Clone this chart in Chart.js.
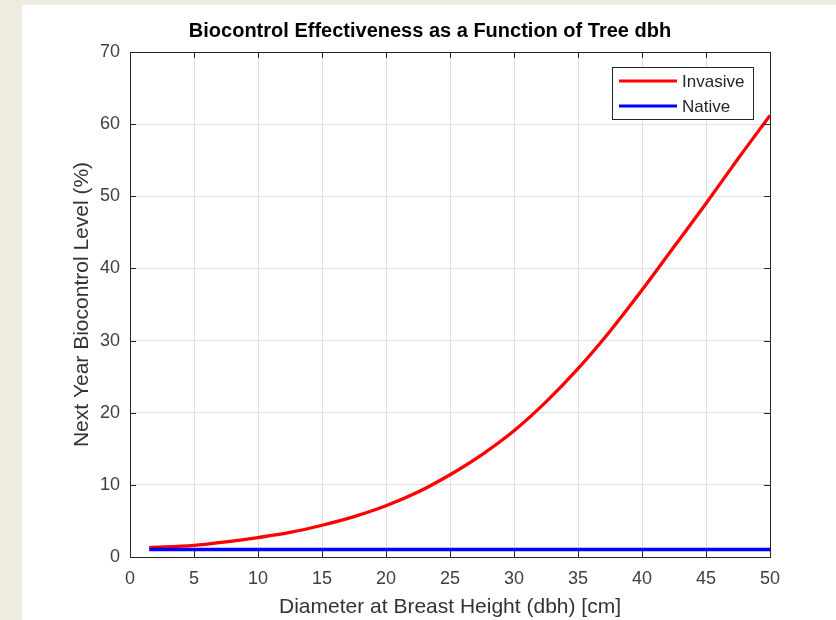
<!DOCTYPE html>
<html>
<head>
<meta charset="utf-8">
<title>Biocontrol Effectiveness</title>
<script src="https://cdn.jsdelivr.net/npm/chart.js@4.4.1/dist/chart.umd.min.js"></script>
<style>
    html, body { margin: 0; padding: 0; background: #eeebe0; }
    #chart_box { width: 836px; height: 620px; }
</style>
</head>
<body>
<div id="chart_box"><canvas id="dbh_chart" width="836" height="620"></canvas></div>
<script>
// diameter at breast height (cm)
var dbh = [1.5, 5, 7.5, 10, 12.5, 15, 17.5, 20, 22.5, 25, 27.5, 30, 32.5, 35, 37.5, 40, 42.5, 45, 47.5, 50];
// next year biocontrol level (%)
var invasive = [1.3, 1.6, 2.1, 2.7, 3.4, 4.4, 5.6, 7.1, 9.0, 11.4, 14.2, 17.5, 21.5, 26.1, 31.3, 37.0, 43.0, 49.0, 55.2, 61.2];
var native = [1.05, 1.05, 1.05, 1.05, 1.05, 1.05, 1.05, 1.05, 1.05, 1.05, 1.05, 1.05, 1.05, 1.05, 1.05, 1.05, 1.05, 1.05, 1.05, 1.05];

var xTickValues = [0, 5, 10, 15, 20, 25, 30, 35, 40, 45, 50];
var yTickValues = [0, 10, 20, 30, 40, 50, 60, 70];

var FONT = '"Liberation Sans", Arial, Helvetica, sans-serif';
var AXIS_COLOR = '#262626';

function toPoints(xs, ys) {
    return xs.map(function (x, i) { return { x: x, y: ys[i] }; });
}

// matlab-ish axes box: frame, inward ticks, title and legend
var axesDecor = {
    id: 'axesDecor',
    beforeDraw: function (chart) {
        var ctx = chart.ctx;
        ctx.save();
        ctx.fillStyle = '#eeebe0';
        ctx.fillRect(0, 0, chart.width, chart.height);
        ctx.fillStyle = '#ffffff';
        ctx.fillRect(22, 5, chart.width - 22, chart.height - 5);
        ctx.restore();
    },
    afterDraw: function (chart) {
        var ctx = chart.ctx;
        var a = chart.chartArea;
        var xs = chart.scales.x, ys = chart.scales.y;
        var t = 6;
        ctx.save();
        ctx.strokeStyle = AXIS_COLOR;
        ctx.lineWidth = 1;
        ctx.strokeRect(Math.round(a.left) + 0.5, Math.round(a.top) + 0.5,
            Math.round(a.right - a.left), Math.round(a.bottom - a.top));

        ctx.beginPath();
        xTickValues.forEach(function (v) {
            var px = Math.round(xs.getPixelForValue(v)) + 0.5;
            ctx.moveTo(px, a.bottom); ctx.lineTo(px, a.bottom - t);
            ctx.moveTo(px, a.top); ctx.lineTo(px, a.top + t);
        });
        yTickValues.forEach(function (v) {
            var py = Math.round(ys.getPixelForValue(v)) + 0.5;
            ctx.moveTo(a.left, py); ctx.lineTo(a.left + t, py);
            ctx.moveTo(a.right, py); ctx.lineTo(a.right - t, py);
        });
        ctx.stroke();

        // title
        ctx.fillStyle = '#000000';
        ctx.font = 'bold 20px ' + FONT;
        ctx.textAlign = 'center';
        ctx.textBaseline = 'middle';
        ctx.fillText('Biocontrol Effectiveness as a Function of Tree dbh', 430, 31);

        // legend
        var lx = 612, ly = 67, lw = 141, lh = 52;
        ctx.fillStyle = '#ffffff';
        ctx.fillRect(lx, ly, lw, lh);
        ctx.strokeStyle = AXIS_COLOR;
        ctx.strokeRect(lx + 0.5, ly + 0.5, lw, lh);
        ctx.font = '17px ' + FONT;
        ctx.textAlign = 'left';
        chart.data.datasets.forEach(function (ds, i) {
            var y = ly + 14 + i * 25;
            ctx.strokeStyle = ds.borderColor;
            ctx.lineWidth = 3;
            ctx.beginPath();
            ctx.moveTo(lx + 7, y);
            ctx.lineTo(lx + 65, y);
            ctx.stroke();
            ctx.fillStyle = AXIS_COLOR;
            ctx.fillText(ds.label, lx + 70, y + 1);
        });
        ctx.restore();
    }
};

new Chart(document.getElementById('dbh_chart').getContext('2d'), {
    type: 'line',
    data: {
        datasets: [{
            label: 'Invasive',
            data: toPoints(dbh, invasive),
            borderColor: '#ff0000',
            borderWidth: 3.3,
            pointRadius: 0,
            cubicInterpolationMode: 'monotone',
            order: 1
        }, {
            label: 'Native',
            data: toPoints(dbh, native),
            borderColor: '#0000ff',
            borderWidth: 3.5,
            pointRadius: 0,
            order: 0
        }]
    },
    options: {
        responsive: false,
        devicePixelRatio: 1,
        animation: false,
        layout: { padding: { left: 0, right: 66, top: 52, bottom: 0 } },
        plugins: {
            legend: { display: false },
            title: { display: false },
            tooltip: { enabled: false }
        },
        scales: {
            x: {
                type: 'linear',
                min: 0,
                max: 50,
                afterBuildTicks: function (s) { s.ticks = xTickValues.map(function (v) { return { value: v }; }); },
                afterFit: function (s) { s.height = 63; },
                grid: { color: '#e0e0e0', drawTicks: false },
                border: { display: false },
                ticks: { padding: 11, color: '#404040', maxRotation: 0, autoSkip: false, font: { family: FONT, size: 18 } },
                title: {
                    display: true,
                    text: 'Diameter at Breast Height (dbh) [cm]',
                    color: '#333333',
                    font: { family: FONT, size: 21 },
                    padding: { top: 2.4, bottom: 0 }
                }
            },
            y: {
                type: 'linear',
                min: 0,
                max: 70,
                afterBuildTicks: function (s) { s.ticks = yTickValues.map(function (v) { return { value: v }; }); },
                afterFit: function (s) { s.width = 130; },
                grid: { color: '#e0e0e0', drawTicks: false },
                border: { display: false },
                ticks: { padding: 10, color: '#404040', autoSkip: false, font: { family: FONT, size: 18 } },
                title: {
                    display: true,
                    text: 'Next Year Biocontrol Level (%)',
                    color: '#333333',
                    font: { family: FONT, size: 21 },
                    padding: { top: 69.4, bottom: 0 }
                }
            }
        }
    },
    plugins: [axesDecor]
});
</script>
</body>
</html>
